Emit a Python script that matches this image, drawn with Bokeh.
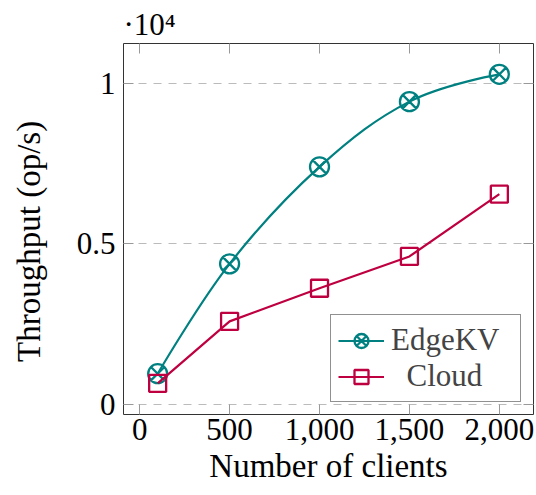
from bokeh.plotting import figure
from bokeh.models import (FixedTicker, LinearAxis, Legend, LegendItem, Range1d, Title)
from bokeh.embed import file_html
from bokeh.resources import INLINE

# ---- data ----
clients = [100, 500, 1000, 1500, 2000]
edgekv = [950, 4370, 7390, 9420, 10270]
cloud = [650, 2580, 3610, 4600, 6540]
x_ticks = [0, 500, 1000, 1500, 2000]
x_tick_labels = ["0", "500", "1,000", "1,500", "2,000"]
y_ticks = [0, 5000, 10000]
y_tick_labels = ["0", "0.5", "1"]

TEAL = "#008080"
RED = "#BF0040"
FONT = "Liberation Serif"

p = figure(width=536, height=495, output_backend="svg", toolbar_location=None,
           x_range=Range1d(-90, 2190), y_range=Range1d(-320, 11230),
           min_border_left=123, min_border_right=3, min_border_top=43,
           min_border_bottom=81)
p.background_fill_color = "white"
p.border_fill_color = "white"
p.outline_line_color = "#333333"
p.outline_line_width = 1

p.title = Title(text="\u00b710\u2074", align="left", offset=0, standoff=3,
                text_font=FONT, text_font_size="31px", text_font_style="normal",
                text_color="black")

# grid
p.xgrid.visible = False
p.ygrid.ticker = FixedTicker(ticks=y_ticks)
p.ygrid.grid_line_color = "#bbbbbb"
p.ygrid.grid_line_dash = "8 7"
p.ygrid.grid_line_width = 1


def style_axis(ax, ticks, labels, show_labels=True):
    ax.ticker = FixedTicker(ticks=ticks)
    ax.axis_line_color = None
    ax.major_tick_in = 10
    ax.major_tick_out = 0
    ax.major_tick_line_color = "#999999"
    ax.major_tick_line_width = 1
    ax.minor_tick_line_color = None
    ax.major_label_text_font = FONT
    if show_labels:
        ax.major_label_overrides = {t: l for t, l in zip(ticks, labels)}
        ax.major_label_text_color = "black"
        ax.major_label_text_font_size = "31px"
    else:
        ax.major_label_text_color = None
        ax.major_label_text_font_size = "1px"
        ax.major_label_standoff = 0


xa = p.xaxis[0]
style_axis(xa, x_ticks, x_tick_labels)
xa.major_label_standoff = 4
xa.axis_label = "Number of clients"
xa.axis_label_text_font = FONT
xa.axis_label_text_font_size = "33px"
xa.axis_label_text_font_style = "normal"
xa.axis_label_text_color = "black"
xa.axis_label_standoff = 5

ya = p.yaxis[0]
style_axis(ya, y_ticks, y_tick_labels)
ya.major_label_standoff = 8
ya.axis_label = "Throughput (op/s)\u00a0\u00a0\u00a0"
ya.axis_label_text_font = FONT
ya.axis_label_text_font_size = "33px"
ya.axis_label_text_font_style = "normal"
ya.axis_label_text_color = "black"
ya.axis_label_standoff = 27

top = LinearAxis()
style_axis(top, x_ticks, x_tick_labels, show_labels=False)
p.add_layout(top, "above")
right = LinearAxis()
style_axis(right, y_ticks, y_tick_labels, show_labels=False)
p.add_layout(right, "right")


# smooth curve (pgfplots "smooth", tension 0.55) built from the data points
def smooth_segments(xs, ys, tension=0.55):
    f = tension / 3.0
    n = len(xs)
    seg = dict(x0=[], y0=[], x1=[], y1=[], cx0=[], cy0=[], cx1=[], cy1=[])
    for i in range(n - 1):
        if i == 0:
            c0x, c0y = xs[0], ys[0]
        else:
            c0x = xs[i] + f * (xs[i + 1] - xs[i - 1])
            c0y = ys[i] + f * (ys[i + 1] - ys[i - 1])
        if i + 1 == n - 1:
            c1x, c1y = xs[n - 1], ys[n - 1]
        else:
            c1x = xs[i + 1] - f * (xs[i + 2] - xs[i])
            c1y = ys[i + 1] - f * (ys[i + 2] - ys[i])
        seg["x0"].append(xs[i]); seg["y0"].append(ys[i])
        seg["x1"].append(xs[i + 1]); seg["y1"].append(ys[i + 1])
        seg["cx0"].append(c0x); seg["cy0"].append(c0y)
        seg["cx1"].append(c1x); seg["cy1"].append(c1y)
    return seg


edge_line = p.bezier(source=smooth_segments(clients, edgekv), x0="x0", y0="y0", x1="x1", y1="y1",
                     cx0="cx0", cy0="cy0", cx1="cx1", cy1="cy1",
                     line_color=TEAL, line_width=2.2)
edge_pts = p.scatter(clients, edgekv, marker="circle_x", size=19, line_color=TEAL,
                     line_width=2.3, fill_color=None)

cloud_line = p.line(clients, cloud, line_color=RED, line_width=2.2)
cloud_pts = p.scatter(clients, cloud, marker="square", size=17, line_color=RED,
                      line_width=2.3, fill_color=None)

legend = Legend(items=[
    LegendItem(label="EdgeKV", renderers=[edge_line, edge_pts]),
    LegendItem(label="\u00a0\u00a0Cloud", renderers=[cloud_line, cloud_pts]),
], location="bottom_right")
legend.margin = 12
legend.padding = 7
legend.spacing = 0
legend.glyph_width = 46
legend.glyph_height = 35
legend.label_height = 35
legend.label_width = 122
legend.label_standoff = 7
legend.label_text_font = FONT
legend.label_text_font_size = "31px"
legend.border_line_color = "#222222"
legend.border_line_width = 1
legend.background_fill_color = "white"
legend.background_fill_alpha = 1
p.add_layout(legend, "center")

open("out.html", "w").write(file_html(p, INLINE))
